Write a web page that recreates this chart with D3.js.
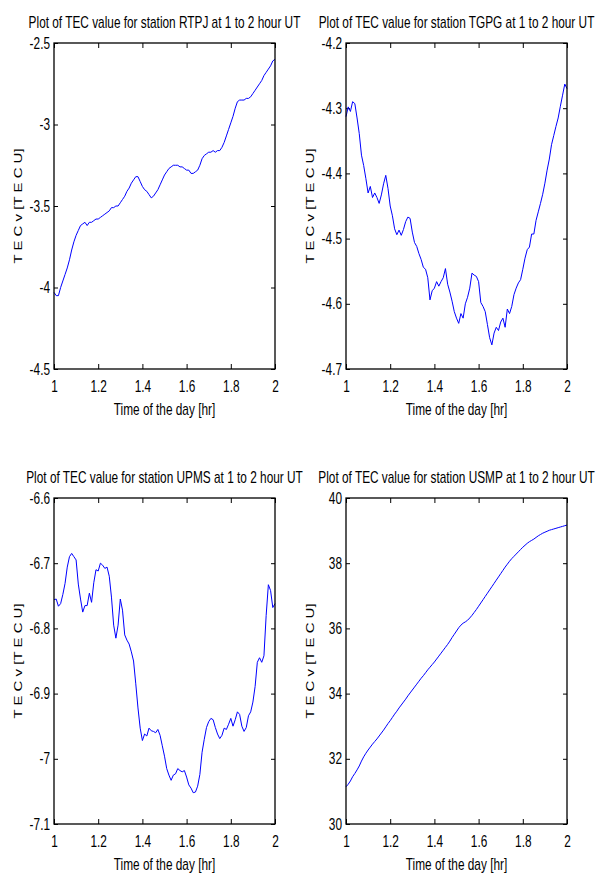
<!DOCTYPE html>
<html>
<head>
<meta charset="utf-8">
<script src="https://cdn.jsdelivr.net/npm/d3@7"></script>
<style>
body { margin: 0; background: #fff; }
svg { display: block; }
text { font-family: "Liberation Sans", Arial, sans-serif; font-size: 16px; fill: #000; }
text.ylabel { font-size: 15px; }
</style>
</head>
<body>
<div id="chart"></div>
<script>
// time of the day [hr], one sample every 0.01 hr
var hours = [
    1.00, 1.01, 1.02, 1.03, 1.04, 1.05, 1.06, 1.07, 1.08, 1.09,
    1.10, 1.11, 1.12, 1.13, 1.14, 1.15, 1.16, 1.17, 1.18, 1.19,
    1.20, 1.21, 1.22, 1.23, 1.24, 1.25, 1.26, 1.27, 1.28, 1.29,
    1.30, 1.31, 1.32, 1.33, 1.34, 1.35, 1.36, 1.37, 1.38, 1.39,
    1.40, 1.41, 1.42, 1.43, 1.44, 1.45, 1.46, 1.47, 1.48, 1.49,
    1.50, 1.51, 1.52, 1.53, 1.54, 1.55, 1.56, 1.57, 1.58, 1.59,
    1.60, 1.61, 1.62, 1.63, 1.64, 1.65, 1.66, 1.67, 1.68, 1.69,
    1.70, 1.71, 1.72, 1.73, 1.74, 1.75, 1.76, 1.77, 1.78, 1.79,
    1.80, 1.81, 1.82, 1.83, 1.84, 1.85, 1.86, 1.87, 1.88, 1.89,
    1.90, 1.91, 1.92, 1.93, 1.94, 1.95, 1.96, 1.97, 1.98, 1.99,
    2.00
]

var tecRTPJ = [
    -4.03, -4.05, -4.05, -4.00, -3.96, -3.92, -3.88, -3.83, -3.77, -3.72,
    -3.68, -3.65, -3.62, -3.61, -3.60, -3.62, -3.60, -3.60, -3.59, -3.58,
    -3.58, -3.57, -3.56, -3.55, -3.54, -3.53, -3.51, -3.51, -3.50, -3.50,
    -3.48, -3.46, -3.44, -3.41, -3.39, -3.36, -3.34, -3.32, -3.32, -3.35,
    -3.38, -3.40, -3.41, -3.43, -3.45, -3.44, -3.42, -3.40, -3.37, -3.34,
    -3.31, -3.29, -3.27, -3.26, -3.25, -3.25, -3.25, -3.26, -3.26, -3.27,
    -3.28, -3.28, -3.30, -3.30, -3.29, -3.28, -3.25, -3.21, -3.19, -3.18,
    -3.17, -3.17, -3.16, -3.17, -3.16, -3.16, -3.14, -3.11, -3.07, -3.03,
    -2.99, -2.95, -2.90, -2.86, -2.85, -2.85, -2.85, -2.84, -2.84, -2.83,
    -2.81, -2.79, -2.77, -2.75, -2.73, -2.70, -2.68, -2.66, -2.64, -2.61,
    -2.60
]

var tecTGPG = [
    -4.313, -4.298, -4.305, -4.290, -4.293, -4.315, -4.339, -4.372, -4.388, -4.408,
    -4.430, -4.420, -4.437, -4.430, -4.437, -4.446, -4.433, -4.416, -4.403, -4.423,
    -4.450, -4.465, -4.485, -4.494, -4.487, -4.495, -4.486, -4.474, -4.467, -4.469,
    -4.490, -4.506, -4.512, -4.523, -4.532, -4.544, -4.547, -4.560, -4.594, -4.580,
    -4.576, -4.566, -4.573, -4.566, -4.560, -4.546, -4.570, -4.582, -4.596, -4.612,
    -4.622, -4.630, -4.615, -4.622, -4.600, -4.590, -4.576, -4.553, -4.556, -4.558,
    -4.566, -4.598, -4.604, -4.612, -4.632, -4.652, -4.663, -4.645, -4.636, -4.641,
    -4.628, -4.622, -4.636, -4.608, -4.615, -4.604, -4.586, -4.576, -4.568, -4.563,
    -4.547, -4.530, -4.517, -4.513, -4.493, -4.493, -4.472, -4.459, -4.446, -4.432,
    -4.415, -4.395, -4.378, -4.356, -4.342, -4.328, -4.315, -4.297, -4.280, -4.263,
    -4.270
]

var tecUPMS = [
    -6.756, -6.755, -6.766, -6.762, -6.748, -6.731, -6.706, -6.690, -6.685, -6.690,
    -6.695, -6.732, -6.755, -6.775, -6.765, -6.765, -6.746, -6.760, -6.730, -6.710,
    -6.712, -6.700, -6.703, -6.708, -6.706, -6.720, -6.752, -6.795, -6.815, -6.795,
    -6.755, -6.772, -6.810, -6.818, -6.824, -6.836, -6.850, -6.885, -6.922, -6.953,
    -6.972, -6.962, -6.965, -6.953, -6.957, -6.958, -6.960, -6.955, -6.964, -6.980,
    -6.996, -7.015, -7.025, -7.033, -7.025, -7.023, -7.015, -7.018, -7.020, -7.018,
    -7.028, -7.040, -7.045, -7.052, -7.051, -7.042, -7.024, -6.990, -6.970, -6.952,
    -6.943, -6.938, -6.940, -6.952, -6.962, -6.969, -6.964, -6.953, -6.955, -6.947,
    -6.938, -6.950, -6.940, -6.928, -6.932, -6.950, -6.958, -6.952, -6.934, -6.928,
    -6.913, -6.889, -6.852, -6.845, -6.852, -6.842, -6.780, -6.733, -6.742, -6.768,
    -6.762
]

var tecUSMP = [
    31.14, 31.22, 31.32, 31.45, 31.55, 31.66, 31.78, 31.93, 32.06, 32.17,
    32.27, 32.36, 32.45, 32.53, 32.61, 32.70, 32.79, 32.88, 32.98, 33.08,
    33.17, 33.27, 33.37, 33.46, 33.56, 33.65, 33.74, 33.83, 33.93, 34.02,
    34.11, 34.20, 34.29, 34.38, 34.47, 34.55, 34.64, 34.73, 34.81, 34.89,
    34.97, 35.06, 35.15, 35.24, 35.33, 35.42, 35.51, 35.61, 35.72, 35.82,
    35.92, 36.02, 36.10, 36.16, 36.20, 36.25, 36.32, 36.40, 36.49, 36.58,
    36.68, 36.78, 36.88, 36.98, 37.08, 37.18, 37.28, 37.38, 37.48, 37.58,
    37.68, 37.78, 37.88, 37.97, 38.06, 38.14, 38.21, 38.28, 38.35, 38.42,
    38.49, 38.55, 38.61, 38.66, 38.70, 38.74, 38.79, 38.84, 38.88, 38.92,
    38.95, 38.98, 39.01, 39.03, 39.05, 39.07, 39.09, 39.11, 39.13, 39.15,
    39.17
]

var stations = ['RTPJ', 'TGPG', 'UPMS', 'USMP']
var series = [tecRTPJ, tecTGPG, tecUPMS, tecUSMP]
var xTicks = [1, 1.2, 1.4, 1.6, 1.8, 2]
var yTicks = [
    [-4.5, -4, -3.5, -3, -2.5],
    [-4.7, -4.6, -4.5, -4.4, -4.3, -4.2],
    [-7.1, -7, -6.9, -6.8, -6.7, -6.6],
    [30, 32, 34, 36, 38, 40]
]

var K = 0.74   // the picture is squeezed sideways, so the text is too
var lefts = [54, 346]
var tops = [43, 498]
var width = 221
var height = 326

var svg = d3.select('#chart')
    .append('svg')
    .attr('width', 601)
    .attr('height', 874)

svg.append('rect').attr('width', 601).attr('height', 874).attr('fill', '#fff')

function squeeze(sel) {
    sel.each(function () {
        var t = d3.select(this)
        var x = +t.attr('x') || 0
        t.attr('x', x / K).attr('transform', 'scale(' + K + ',1)')
    })
}

series.forEach(function (values, i) {
    var left = lefts[i % 2]
    var top = tops[Math.floor(i / 2)]
    var ticks = yTicks[i]

    var g = svg.append('g')
        .attr('transform', `translate(${left}, ${top})`)

    var xScale = d3.scaleLinear().domain([1, 2]).range([0, width])
    var yScale = d3.scaleLinear().domain([ticks[0], ticks[ticks.length - 1]]).range([height, 0])

    var bottom = g.append('g')
        .attr('transform', `translate(0, ${height})`)
        .call(d3.axisBottom(xScale).tickValues(xTicks).tickFormat(String)
            .tickSizeInner(-5).tickSizeOuter(0).tickPadding(12))
    var leftAxis = g.append('g')
        .call(d3.axisLeft(yScale).tickValues(ticks).tickFormat(String)
            .tickSizeInner(-4).tickSizeOuter(0).tickPadding(4))
    g.append('g')
        .call(d3.axisTop(xScale).tickValues(xTicks).tickFormat('')
            .tickSizeInner(-5).tickSizeOuter(0))
    g.append('g')
        .attr('transform', `translate(${width}, 0)`)
        .call(d3.axisRight(yScale).tickValues(ticks).tickFormat('')
            .tickSizeInner(-4).tickSizeOuter(0))

    g.selectAll('.domain').remove()
    g.selectAll('.tick line').attr('stroke', '#000')
    squeeze(bottom.selectAll('text'))
    squeeze(leftAxis.selectAll('text'))

    var lineFunc = d3.line()
        .x(function (d, j) { return xScale(hours[j]) })
        .y(function (d) { return yScale(d) })

    g.append('path')
        .attr('d', lineFunc(values))
        .attr('stroke', '#0000ff')
        .attr('stroke-width', 1)
        .attr('fill', 'none')

    g.append('rect')
        .attr('width', width)
        .attr('height', height)
        .attr('fill', 'none')
        .attr('stroke', '#000')
        .attr('stroke-width', 1.3)

    var title = g.append('text')
        .attr('x', width / 2)
        .attr('y', -15)
        .attr('text-anchor', 'middle')
        .text('Plot of TEC value for station ' + stations[i] + ' at 1 to 2 hour UT')
    squeeze(title)

    var xLabel = g.append('text')
        .attr('x', width / 2)
        .attr('y', height + 46)
        .attr('text-anchor', 'middle')
        .text('Time of the day [hr]')
    squeeze(xLabel)

    g.append('text')
        .attr('class', 'ylabel')
        .attr('text-anchor', 'middle')
        .attr('transform', `translate(-32, ${height / 2}) scale(${K},1) rotate(-90)`)
        .text('T E C v [T E C U]')
})
</script>
</body>
</html>
